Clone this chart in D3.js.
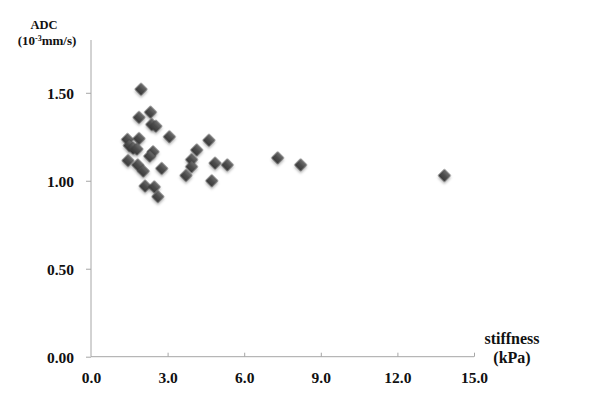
<!DOCTYPE html>
<html><head><meta charset="utf-8">
<script src="https://cdn.jsdelivr.net/npm/d3@7"></script>
<style>body{margin:0;background:#fff;} text{font-family:"Liberation Serif","Times New Roman",serif;font-weight:bold;fill:#111;}</style>
</head><body>
<svg id="c" width="604" height="404"></svg>
<script>
const stiffness = [1.96,1.88,2.33,2.38,2.54,3.07,4.62,4.14,1.43,1.88,1.50,1.65,1.80,2.43,2.30,3.94,3.94,4.86,5.34,1.45,1.83,2.05,2.77,3.72,4.73,2.12,2.48,2.62,7.31,8.21,13.84];
const adc       = [1.52,1.36,1.39,1.32,1.31,1.25,1.23,1.175,1.235,1.24,1.20,1.185,1.18,1.165,1.14,1.12,1.08,1.10,1.09,1.115,1.09,1.055,1.07,1.03,1.00,0.97,0.965,0.91,1.13,1.09,1.03];
const xTicks = [0,3,6,9,12,15];
const yTicks = [0,0.5,1.0,1.5];

const svg = d3.select("#c");
const x = d3.scaleLinear().domain([0,15]).range([91,474]);
const y = d3.scaleLinear().domain([0,1.8]).range([356.7,40]);

const defs = svg.append("defs");
const g = defs.append("linearGradient").attr("id","dg").attr("x1","0").attr("y1","0").attr("x2","0").attr("y2","1");
g.append("stop").attr("offset","0").attr("stop-color","#707070");
g.append("stop").attr("offset","0.5").attr("stop-color","#4c4c4c");
g.append("stop").attr("offset","1").attr("stop-color","#3a3a3a");
const f = defs.append("filter").attr("id","sh").attr("x","-50%").attr("y","-50%").attr("width","200%").attr("height","200%");
f.append("feDropShadow").attr("dx",1.5).attr("dy",1.5).attr("stdDeviation",1.2).attr("flood-color","#000").attr("flood-opacity",0.3);

// y axis
const ya = svg.append("g").attr("transform",`translate(${x(0)},0)`)
  .call(d3.axisLeft(y).tickValues(yTicks).tickSize(5).tickFormat(d3.format(".2f")));
ya.select(".domain").attr("stroke","#a6a6a6").attr("d",`M0,${y(1.8)}V${y(0)}`);
ya.selectAll(".tick line").attr("stroke","#a6a6a6");
ya.selectAll(".tick text").attr("x",-17).attr("dy","0.36em").style("font-size","15.5px").attr("fill","#111");

// x axis
const xa = svg.append("g").attr("transform",`translate(0,${y(0)})`)
  .call(d3.axisBottom(x).tickValues(xTicks).tickSize(-4).tickFormat(d3.format(".1f")));
xa.select(".domain").attr("stroke","#a6a6a6").attr("d",`M${x(0)},0H${x(15)}`);
xa.selectAll(".tick line").attr("stroke","#a6a6a6");
xa.selectAll(".tick text").attr("y",21).attr("dy","0.36em").style("font-size","15.5px").attr("fill","#111");
xa.selectAll(".tick").filter(d=>d===0).select("line").remove();

// points
svg.append("g").selectAll("path").data(stiffness.map((s,i)=>[s,adc[i]])).join("path")
  .attr("d", d3.symbol().type(d3.symbolSquare).size(74))
  .attr("transform", d=>`translate(${x(d[0])},${y(d[1])}) rotate(45)`)
  .attr("fill","url(#dg)").attr("stroke","#3d3d3d").attr("stroke-width",0.5)
  .attr("filter","url(#sh)");

// labels
svg.append("text").attr("x",44).attr("y",29).attr("text-anchor","middle").style("font-size","12.5px").text("ADC");
const t = svg.append("text").attr("x",47).attr("y",44.5).attr("text-anchor","middle").style("font-size","13px");
t.append("tspan").text("(10");
t.append("tspan").attr("dy",-3.5).style("font-size","8px").text("-3");
t.append("tspan").attr("dy",3.5).text("mm/s)");
svg.append("text").attr("x",512).attr("y",344).attr("text-anchor","middle").style("font-size","16px").text("stiffness");
svg.append("text").attr("x",512).attr("y",363).attr("text-anchor","middle").style("font-size","16px").text("(kPa)");
</script>
</body></html>
